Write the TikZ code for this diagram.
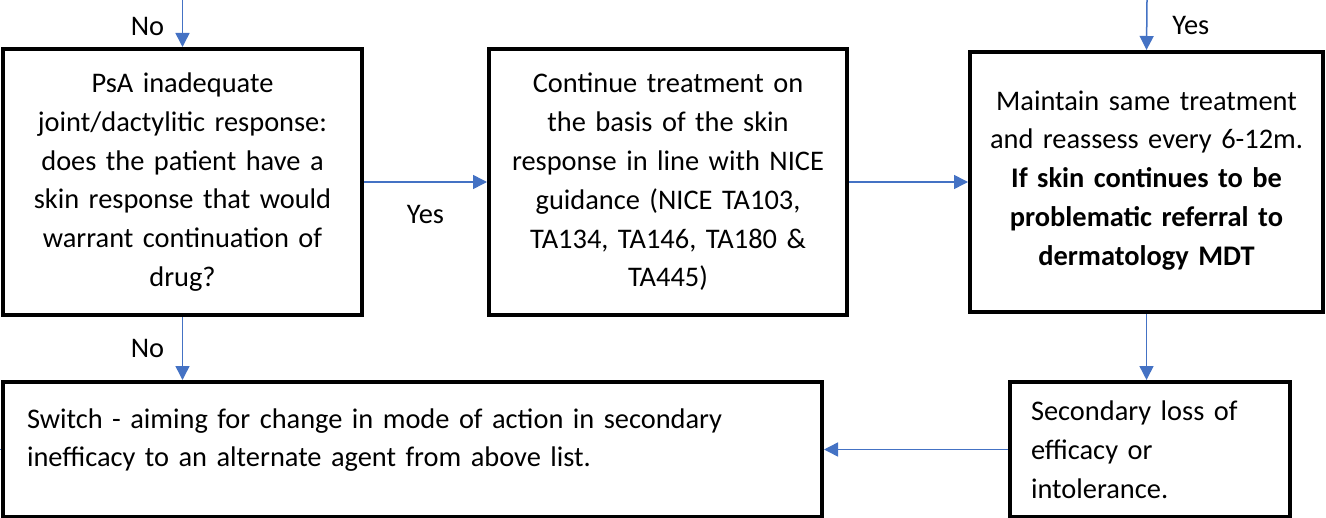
\documentclass[tikz,border=0pt]{standalone}
\usepackage{fontspec}
\setmainfont{Carlito}
\usetikzlibrary{arrows.meta}
\definecolor{flowblue}{RGB}{68,114,196}
\begin{document}
\begin{tikzpicture}[x=0.5pt, y=-0.5pt,
    font=\fontsize{14.2}{19.4}\selectfont,
    box/.style={draw, line width=2pt, align=center, inner sep=0pt},
    flow/.style={draw=flowblue, line width=0.75pt, -{Triangle[length=7pt, width=7pt]}}]
    \useasboundingbox (0,0) rectangle (1326,518);
    % Boxes
    \node[box, minimum width=179.5pt, minimum height=133pt, text width=170pt] (psa) at (182.5,182)
        {PsA inadequate\\ joint/dactylitic response:\\ does the patient have a\\ skin response that would\\ warrant continuation of\\ drug?};
    \node[box, minimum width=179pt, minimum height=133pt, text width=170pt] (cont) at (668,182)
        {Continue treatment on\\ the basis of the skin\\ response in line with NICE\\ guidance (NICE TA103,\\ TA134, TA146, TA180 \&\\ TA445)};
    \node[box, minimum width=176.5pt, minimum height=130pt, text width=170pt] (maint) at (1146.5,182)
        {Maintain same treatment\\ and reassess every 6-12m.\\ \textbf{If skin continues to be}\\ \textbf{problematic referral to}\\ \textbf{dermatology MDT}\\[-15.4pt] \mbox{}};
    \node[box, minimum width=409.5pt, minimum height=67.5pt, text width=385.5pt, align=left] (switch) at (412.5,449.5)
        {Switch - aiming for change in mode of action in secondary\\ inefficacy to an alternate agent from above list.\\[-7.5pt] \mbox{}};
    \node[box, minimum width=140pt, minimum height=67.5pt, text width=119pt, align=left] (loss) at (1150,449.5)
        {Secondary loss of\\ efficacy or\\ intolerance.};
    % Arrows
    \coordinate (inL) at (182.5,0);
    \coordinate (inR) at (1147,0);
    \coordinate (outL) at (0,449.5);
    \draw[flow] (inL) -- (psa.north) node[midway, xshift=-17.5pt, yshift=-1.5pt, text=black] {No};
    \draw[flow] (inR) -- (maint.north) node[midway, xshift=22pt, text=black] {Yes};
    \draw[flow] (psa) -- (cont) node[midway, yshift=-16pt, text=black] {Yes};
    \draw[flow] (cont) -- (maint);
    \draw[flow] (psa.south) -- (psa.south |- switch.north) node[midway, xshift=-17.5pt, text=black] {No};
    \draw[flow] (maint.south) -- (maint.south |- loss.north);
    \draw[flow] (loss) -- (switch);
    \draw[flowblue, line width=0.75pt] (switch.west) -- (outL);
\end{tikzpicture}
\end{document}
